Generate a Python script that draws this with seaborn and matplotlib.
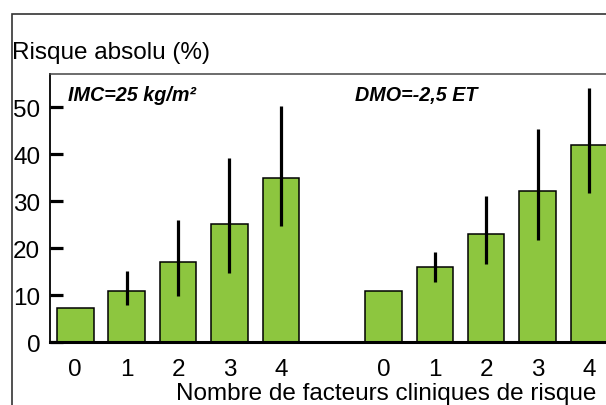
import matplotlib
matplotlib.use("Agg")
import matplotlib.pyplot as plt
import seaborn as sns
import pandas as pd
from matplotlib.patches import Rectangle

# ---- data ----
groups = ["IMC=25 kg/m²", "DMO=-2,5 ET"]
factors = ["0", "1", "2", "3", "4"]
imc_values = [7.4, 11.0, 17.0, 25.2, 35.0]
imc_low = [None, 7.9, 9.8, 14.7, 24.8]
imc_high = [None, 15.1, 26.0, 39.2, 50.2]
dmo_values = [11.0, 16.0, 23.1, 32.1, 42.0]
dmo_low = [None, 12.9, 16.7, 21.8, 31.8]
dmo_high = [None, 19.2, 31.2, 45.3, 54.2]
yticks = [0, 10, 20, 30, 40, 50]

positions = list(range(0, 5)) + list(range(6, 11))
df = pd.DataFrame({
    "pos": positions,
    "value": imc_values + dmo_values,
    "low": imc_low + dmo_low,
    "high": imc_high + dmo_high,
    "label": factors + factors,
})

sns.set_theme(style="white")
plt.rcParams["font.family"] = ["Liberation Sans", "DejaVu Sans"]
plt.rcParams["text.color"] = "black"
plt.rcParams["axes.labelcolor"] = "black"
plt.rcParams["xtick.color"] = "black"
plt.rcParams["ytick.color"] = "black"

W, H = 606, 406
fig = plt.figure(figsize=(W / 100, H / 100), dpi=100)

# outer frame (cropped)
fig.patches.append(Rectangle((11.8 / W, -0.1), 1.2, 1.1 - 15 / H,
                             transform=fig.transFigure, fill=False,
                             edgecolor="#333333", linewidth=1.2, zorder=0))

left_px, right_px, top_px, bot_px = 50, 620, 75, 343.3
ax = fig.add_axes([left_px / W, (H - bot_px) / H,
                   (right_px - left_px) / W, (bot_px - top_px) / H])

sns.barplot(data=df, x="pos", y="value", native_scale=True, width=0.71,
            color="#8DC63F", saturation=1, edgecolor="black", linewidth=1.1,
            errorbar=None, ax=ax, zorder=2)

eb = df.dropna(subset=["low"])
ax.vlines(eb["pos"], eb["low"], eb["high"], color="black", linewidth=2.3, zorder=3)

# axis limits / scale
x0 = -(75.3 - left_px) / 51.37
x1 = x0 + (right_px - left_px) / 51.37
ax.set_xlim(x0, x1)
ax.set_ylim(0, 57.1)

ax.set_xticks(df["pos"])
ax.set_xticklabels(df["label"])
ax.set_yticks(yticks)
ax.set_yticklabels([str(v) for v in yticks])
ax.tick_params(axis="x", length=0, pad=11, labelsize=17.5, labelcolor="black")
ax.tick_params(axis="y", direction="in", length=9, width=2.3, pad=7,
               labelsize=17.5, labelcolor="black", color="black", left=True)
ax.set_xlabel("")
ax.set_ylabel("")

for side in ["left", "top", "right", "bottom"]:
    ax.spines[side].set_visible(True)
ax.spines["left"].set_color("black")
ax.spines["left"].set_linewidth(1.3)
ax.spines["top"].set_color("#444444")
ax.spines["top"].set_linewidth(1.1)
ax.spines["bottom"].set_color("black")
ax.spines["bottom"].set_linewidth(2.2)
ax.spines["bottom"].set_zorder(4)

# panel labels
ax.text(68 / W, 1 - 96 / H, groups[0], transform=fig.transFigure, color="black",
        fontsize=14.2, fontweight="bold", fontstyle="italic", va="center", ha="left")
ax.text(355 / W, 1 - 96 / H, groups[1], transform=fig.transFigure, color="black",
        fontsize=14.2, fontweight="bold", fontstyle="italic", va="center", ha="left")

# axis titles
fig.text(12 / W, 1 - 53 / H, "Risque absolu (%)", fontsize=17.5, color="black",
         va="center", ha="left")
fig.text(386.5 / W, 1 - 394 / H, "Nombre de facteurs cliniques de risque",
         fontsize=17.5, color="black", va="center", ha="center")

fig.savefig("out.png", dpi=100)
